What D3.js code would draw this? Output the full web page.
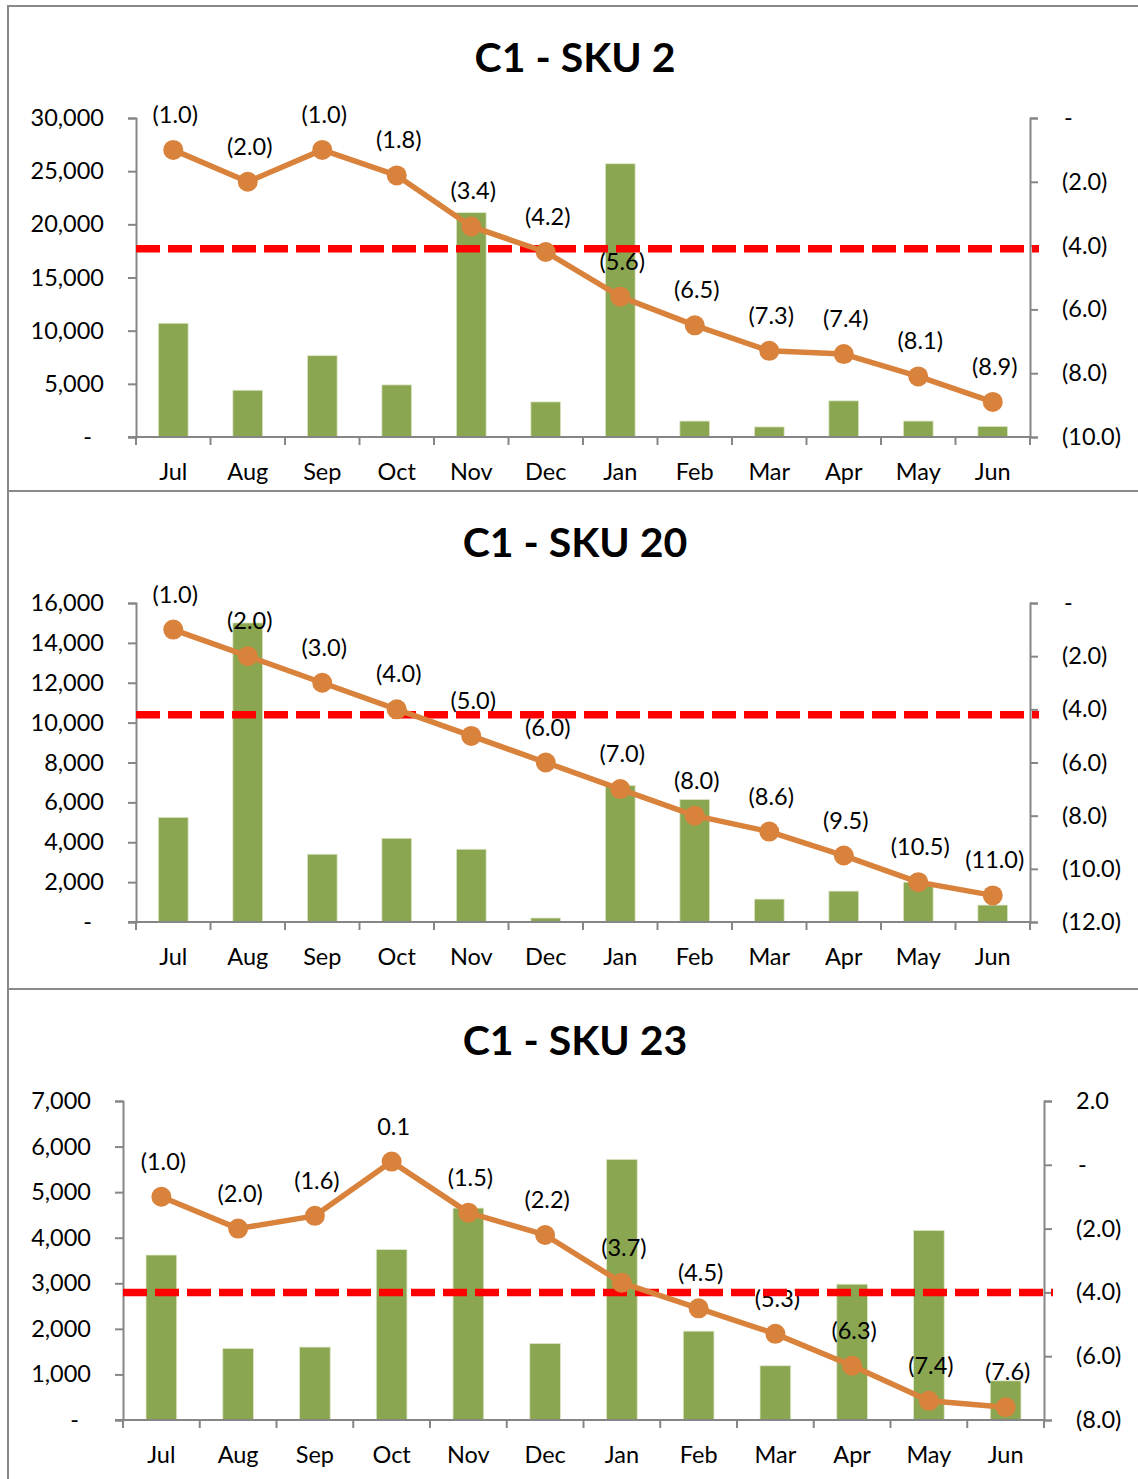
<!DOCTYPE html>
<html><head><meta charset="utf-8">
<script src="https://cdn.jsdelivr.net/npm/d3@7"></script>
<style>
body{margin:0;background:#fff}
svg{display:block}
text{font-family:Lato,"Open Sans",sans-serif;fill:#000}
</style>
</head><body>
<svg id="c" width="1138" height="1479"></svg>
<script>
// ---- data ----
const months = ["Jul","Aug","Sep","Oct","Nov","Dec","Jan","Feb","Mar","Apr","May","Jun"];
const titles = ["C1 - SKU 2","C1 - SKU 20","C1 - SKU 23"];

const sku2Units  = [10700,4400,7650,4900,21100,3300,25700,1500,950,3400,1500,1000];
const sku2Cover  = [-1.0,-2.0,-1.0,-1.8,-3.4,-4.2,-5.6,-6.5,-7.3,-7.4,-8.1,-8.9];
const sku20Units = [5250,15000,3400,4200,3650,200,6850,6150,1150,1550,2000,850];
const sku20Cover = [-1.0,-2.0,-3.0,-4.0,-5.0,-6.0,-7.0,-8.0,-8.6,-9.5,-10.5,-11.0];
const sku23Units = [3620,1570,1600,3740,4650,1680,5720,1950,1190,2980,4160,860];
const sku23Cover = [-1.0,-2.0,-1.6,0.1,-1.5,-2.2,-3.7,-4.5,-5.3,-6.3,-7.4,-7.6];

const sku2LeftTicks   = [0,5000,10000,15000,20000,25000,30000];
const sku2RightTicks  = [0,-2,-4,-6,-8,-10];
const sku20LeftTicks  = [0,2000,4000,6000,8000,10000,12000,14000,16000];
const sku20RightTicks = [0,-2,-4,-6,-8,-10,-12];
const sku23LeftTicks  = [0,1000,2000,3000,4000,5000,6000,7000];
const sku23RightTicks = [2,0,-2,-4,-6,-8];

const thresholds = [-4.1,-4.2,-4.0];

// ---- styling / layout ----
const GREEN = "#8ba650", ORANGE = "#d9823c", RED = "#ff0000", AXIS = "#868686";
const FS = 23.5;
const svg = d3.select("#c");

const panels = [
  {top:6,   x0:136, x1:1030, units:sku2Units,  cover:sku2Cover,  lt:sku2LeftTicks,  rt:sku2RightTicks,  th:thresholds[0], title:titles[0]},
  {top:491, x0:136, x1:1030, units:sku20Units, cover:sku20Cover, lt:sku20LeftTicks, rt:sku20RightTicks, th:thresholds[1], title:titles[1]},
  {top:989, x0:123, x1:1044, units:sku23Units, cover:sku23Cover, lt:sku23LeftTicks, rt:sku23RightTicks, th:thresholds[2], title:titles[2]}
];
const panelBottoms = [491, 989, 1520];

const fmtLeft = v => v === 0 ? "-" : d3.format(",")(v);
const fmtRight = v => v === 0 ? "-" : (v < 0 ? "(" + d3.format(".1f")(-v) + ")" : d3.format(".1f")(v));

panels.forEach((p, pi) => {
  const g = svg.append("g");
  g.append("rect").attr("x", 8).attr("y", p.top).attr("width", 1140).attr("height", panelBottoms[pi] - p.top)
    .attr("fill", "none").attr("stroke", "#898989").attr("stroke-width", 2);

  const yTop = p.top + 112, yBot = yTop + 319;
  const x = d3.scaleBand().domain(months).range([p.x0, p.x1]).paddingInner(0.6).paddingOuter(0.3);
  const yL = d3.scaleLinear().domain([0, d3.max(p.lt)]).range([yBot, yTop]);
  const yR = d3.scaleLinear().domain([d3.min(p.rt), d3.max(p.rt)]).range([yBot, yTop]);

  g.append("text").attr("x", 575).attr("y", p.top + 66).attr("text-anchor", "middle")
    .attr("font-size", 41).attr("font-weight", 700).text(p.title);

  g.selectAll(".bar").data(p.units).enter().append("rect")
    .attr("x", (d, i) => x(months[i])).attr("width", x.bandwidth())
    .attr("y", d => yL(d)).attr("height", d => yBot - yL(d))
    .attr("fill", GREEN).attr("stroke", "#dfe8cc").attr("stroke-width", 0.8);

  const la = g.append("g").attr("transform", `translate(${p.x0},0)`)
    .call(d3.axisLeft(yL).tickValues(p.lt).tickSize(8).tickPadding(24).tickFormat(fmtLeft));
  const ra = g.append("g").attr("transform", `translate(${p.x1},0)`)
    .call(d3.axisRight(yR).tickValues(p.rt).tickSize(8).tickPadding(24).tickFormat(fmtRight));
  [la, ra].forEach(a => {
    a.select(".domain").attr("stroke", AXIS).attr("stroke-width", 2);
    a.selectAll(".tick line").attr("stroke", AXIS).attr("stroke-width", 2);
    a.selectAll(".tick text").attr("font-size", FS).attr("font-family", "Lato").attr("fill", "#000");
  });
  la.selectAll(".tick text").filter(d => d === 0).attr("dx", -12);
  ra.selectAll(".tick text").filter(d => d === 0).attr("dx", 2);

  const ba = g.append("g").attr("transform", `translate(0,${yBot})`)
    .call(d3.axisBottom(x).tickSize(0).tickPadding(0));
  ba.select(".domain").remove();
  ba.selectAll(".tick text").attr("font-size", FS).attr("font-family", "Lato").attr("fill", "#000")
    .attr("y", 43).attr("dy", 0);
  g.append("line").attr("x1", p.x0 - 8).attr("x2", p.x1).attr("y1", yBot).attr("y2", yBot)
    .attr("stroke", AXIS).attr("stroke-width", 2);
  g.selectAll(".btick").data(d3.range(months.length + 1)).enter().append("line")
    .attr("x1", i => p.x0 + i * x.step()).attr("x2", i => p.x0 + i * x.step())
    .attr("y1", yBot).attr("y2", yBot + 8).attr("stroke", AXIS).attr("stroke-width", 2);

  const cx = i => x(months[i]) + x.bandwidth() / 2;

  g.selectAll(".lbl").data(p.cover).enter().append("text")
    .attr("x", (d, i) => cx(i) + 2).attr("y", d => yR(d) - 27)
    .attr("text-anchor", "middle").attr("font-size", FS).text(d => fmtRight(d));

  g.append("line").attr("x1", p.x0).attr("x2", p.x1 + 9)
    .attr("y1", yR(p.th)).attr("y2", yR(p.th))
    .attr("stroke", RED).attr("stroke-width", 7.5).attr("stroke-dasharray", "24 8");

  const line = d3.line().x((d, i) => cx(i)).y(d => yR(d));
  g.append("path").datum(p.cover).attr("d", line).attr("fill", "none")
    .attr("stroke", ORANGE).attr("stroke-width", 5.5).attr("stroke-linejoin", "round");
  g.selectAll(".mk").data(p.cover).enter().append("circle")
    .attr("cx", (d, i) => cx(i)).attr("cy", d => yR(d)).attr("r", 10).attr("fill", ORANGE);
});
</script>
</body></html>
